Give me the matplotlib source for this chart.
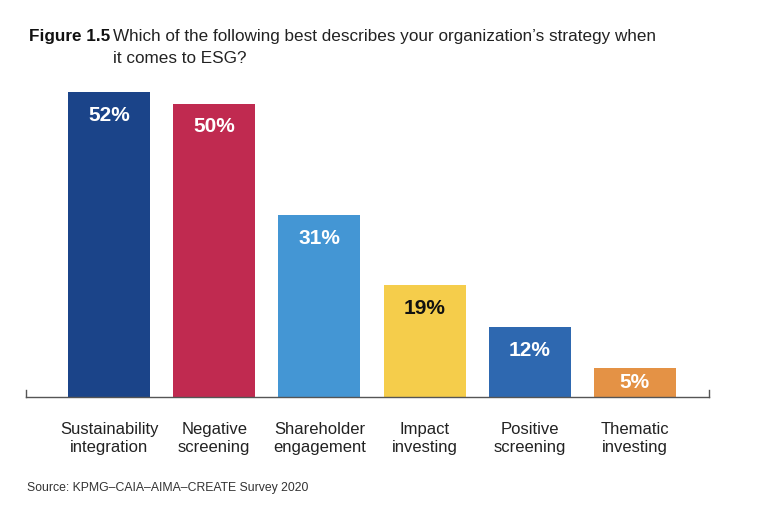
import matplotlib.pyplot as plt

plt.rcParams['font.family'] = ['Liberation Sans', 'DejaVu Sans']

# Datos de la figura
categorias = ['Sustainability\nintegration', 'Negative\nscreening', 'Shareholder\nengagement',
              'Impact\ninvesting', 'Positive\nscreening', 'Thematic\ninvesting']
valores = [52, 50, 31, 19, 12, 5]
colores = ['#1b4489', '#c02a50', '#4496d4', '#f5cd4b', '#2e68b0', '#e49245']
color_texto = ['white', 'white', 'white', '#111111', 'white', 'white']

W, H = 760, 517
fig = plt.figure(figsize=(W / 100, H / 100), dpi=100)
ax = fig.add_axes([26 / W, (H - 397) / H, 683 / W, 312 / H])

x = list(range(len(valores)))
ax.bar(x, valores, width=0.78, color=colores, linewidth=0)

xmin, xmax = -0.79, 5.705
ax.set_xlim(xmin, xmax)
ax.set_ylim(0, 312 / 5.87)

# Etiquetas de valor dentro de las barras
for xi, v, c in zip(x, valores, color_texto):
    y = max(v - 4.0, v / 2)
    ax.text(xi, y, f'{v}%', ha='center', va='center', color=c,
            fontsize=15, fontweight='bold')

# Ejes
for s in ['top', 'right', 'left']:
    ax.spines[s].set_visible(False)
ax.spines['bottom'].set_color('#555555')
ax.spines['bottom'].set_linewidth(1.0)
for xe in (xmin, xmax):
    ax.plot([xe, xe], [0, 1.2], color='#555555', lw=1.0, clip_on=False)
ax.set_yticks([])
ax.set_xticks(x)
ax.set_xticklabels(categorias, fontsize=12, color='#222222', linespacing=1.25)
ax.tick_params(axis='x', length=0, pad=18)

# Título
fig.text(29 / W, 1 - 41 / H, 'Figure 1.5', fontsize=12.3, fontweight='bold',
         va='baseline', ha='left', color='#111111')
fig.text(113 / W, 1 - 41 / H,
         'Which of the following best describes your organization\u2019s strategy when',
         fontsize=12.3, va='baseline', ha='left', color='#222222')
fig.text(113 / W, 1 - 63 / H, 'it comes to ESG?',
         fontsize=12.3, va='baseline', ha='left', color='#222222')

fig.text(27 / W, 1 - 488 / H, 'Source: KPMG\u2013CAIA\u2013AIMA\u2013CREATE Survey 2020',
         fontsize=8.8, va='center', ha='left', color='#333333')

fig.savefig('out.png', dpi=100)
